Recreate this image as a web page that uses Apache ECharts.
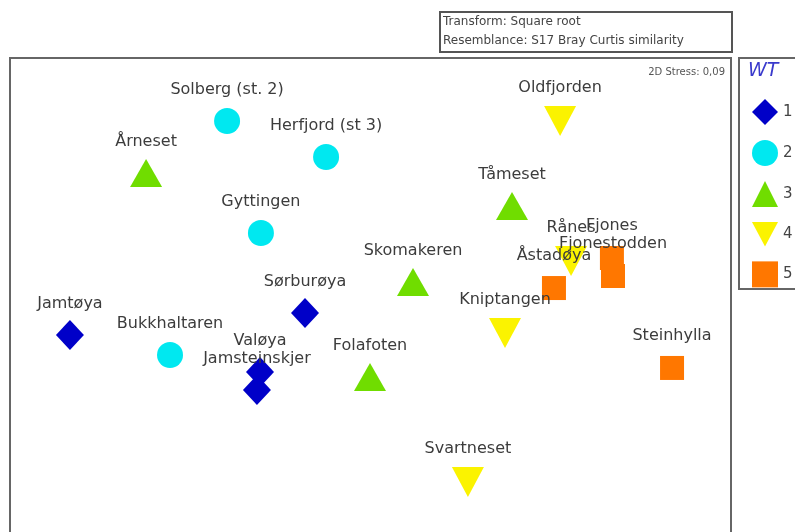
<!DOCTYPE html>
<html>
<head>
<meta charset="utf-8">
<title>MDS WT</title>
<script src="https://cdn.jsdelivr.net/npm/echarts@6/dist/echarts.min.js"></script>
<style>
  html, body { margin: 0; padding: 0; background: #fff; }
  #chart { width: 795px; height: 532px; }
</style>
</head>
<body>
<div id="chart"></div>
<script>
  // station names and MDS coordinates, one set per WT group
  var wt1Names = ['Jamtøya', 'Sørburøya', 'Valøya', 'Jamsteinskjer'];
  var wt1X = [-1.667, -0.361, -0.611, -0.628];
  var wt1Y = [-0.339, -0.217, -0.544, -0.644];

  var wt2Names = ['Solberg (st. 2)', 'Herfjord (st 3)', 'Gyttingen', 'Bukkhaltaren'];
  var wt2X = [-0.794, -0.244, -0.606, -1.111];
  var wt2Y = [0.85, 0.65, 0.228, -0.45];

  var wt3Names = ['Årneset', 'Tåmeset', 'Skomakeren', 'Folafoten'];
  var wt3X = [-1.244, 0.789, 0.239, 0.0];
  var wt3Y = [0.561, 0.378, -0.044, -0.572];

  var wt4Names = ['Oldfjorden', 'Kniptangen', 'Rånes', 'Svartneset'];
  var wt4X = [1.056, 0.75, 1.117, 0.544];
  var wt4Y = [0.85, -0.328, 0.072, -1.156];

  var wt5Names = ['Åstadøya', 'Fjones', 'Fjonestodden', 'Steinhylla'];
  var wt5X = [1.022, 1.344, 1.35, 1.678];
  var wt5Y = [-0.078, 0.089, -0.011, -0.522];

  var groupNames = ['1', '2', '3', '4', '5'];
  var stressText = '2D Stress: 0,09';

  function pts(names, xs, ys) {
    return names.map(function (n, i) { return { name: n, value: [xs[i], ys[i]] }; });
  }

  var labelFont = { fontFamily: 'DejaVu Sans', fontSize: 16, color: '#3c3c3c' };
  function mkSeries(name, data, symbol, size, color, dist) {
    return {
      name: name,
      type: 'scatter',
      data: data,
      symbol: symbol,
      symbolSize: size,
      itemStyle: { color: color, opacity: 1 },
      label: Object.assign({
        show: true,
        position: 'top',
        distance: dist,
        formatter: '{b}'
      }, labelFont),
      emphasis: { disabled: true }
    };
  }

  var invTri = 'path://M0,0L32,0L16,30Z';

  var myChart = echarts.init(document.getElementById('chart'));
  var option = {
    animation: false,
    grid: { left: 10, top: 58, width: 720, height: 468 },
    xAxis: { type: 'value', min: -2, max: 2, show: false },
    yAxis: { type: 'value', min: -1.4, max: 1.2, show: false },
    legend: {
      orient: 'vertical',
      left: 747,
      top: 94,
      itemWidth: 26,
      itemHeight: 26,
      itemGap: 15,
      selectedMode: false,
      data: groupNames,
      textStyle: { fontFamily: 'DejaVu Sans', fontSize: 15, color: '#444' }
    },
    graphic: [
      // top info box
      { type: 'rect', shape: { x: 440, y: 12, width: 292, height: 40 },
        style: { fill: '#fff', stroke: '#555', lineWidth: 2 } },
      { type: 'text', x: 443, y: 16,
        style: { text: 'Transform: Square root', font: '12px "DejaVu Sans"', fill: '#444' } },
      { type: 'text', x: 443, y: 35,
        style: { text: 'Resemblance: S17 Bray Curtis similarity', font: '12px "DejaVu Sans"', fill: '#444' } },
      // plot frame
      { type: 'rect', shape: { x: 10, y: 58, width: 721, height: 500 },
        style: { fill: 'none', stroke: '#666', lineWidth: 2 }, z: -1 },
      { type: 'text', x: 725, y: 67,
        style: { text: stressText, font: '10px "DejaVu Sans"', fill: '#555', align: 'right' } },
      // legend frame
      { type: 'rect', shape: { x: 739, y: 58, width: 80, height: 231 },
        style: { fill: 'none', stroke: '#666', lineWidth: 2 } },
      { type: 'text', x: 748, y: 62,
        style: { text: 'WT', font: 'italic 19px "DejaVu Sans"', fill: '#3a3acc' } }
    ],
    series: [
      mkSeries('1', pts(wt1Names, wt1X, wt1Y), 'diamond', [28, 30], '#0000c8', 8),
      mkSeries('2', pts(wt2Names, wt2X, wt2Y), 'circle', 26, '#00e8f0', 10),
      mkSeries('3', pts(wt3Names, wt3X, wt3Y), 'triangle', [32, 28], '#70dd00', 9),
      mkSeries('4', pts(wt4Names, wt4X, wt4Y), invTri, [32, 30], '#fbf300', 10),
      mkSeries('5', pts(wt5Names, wt5X, wt5Y), 'rect', 24, '#ff7700', 12)
    ]
  };
  myChart.setOption(option);
</script>
</body>
</html>
